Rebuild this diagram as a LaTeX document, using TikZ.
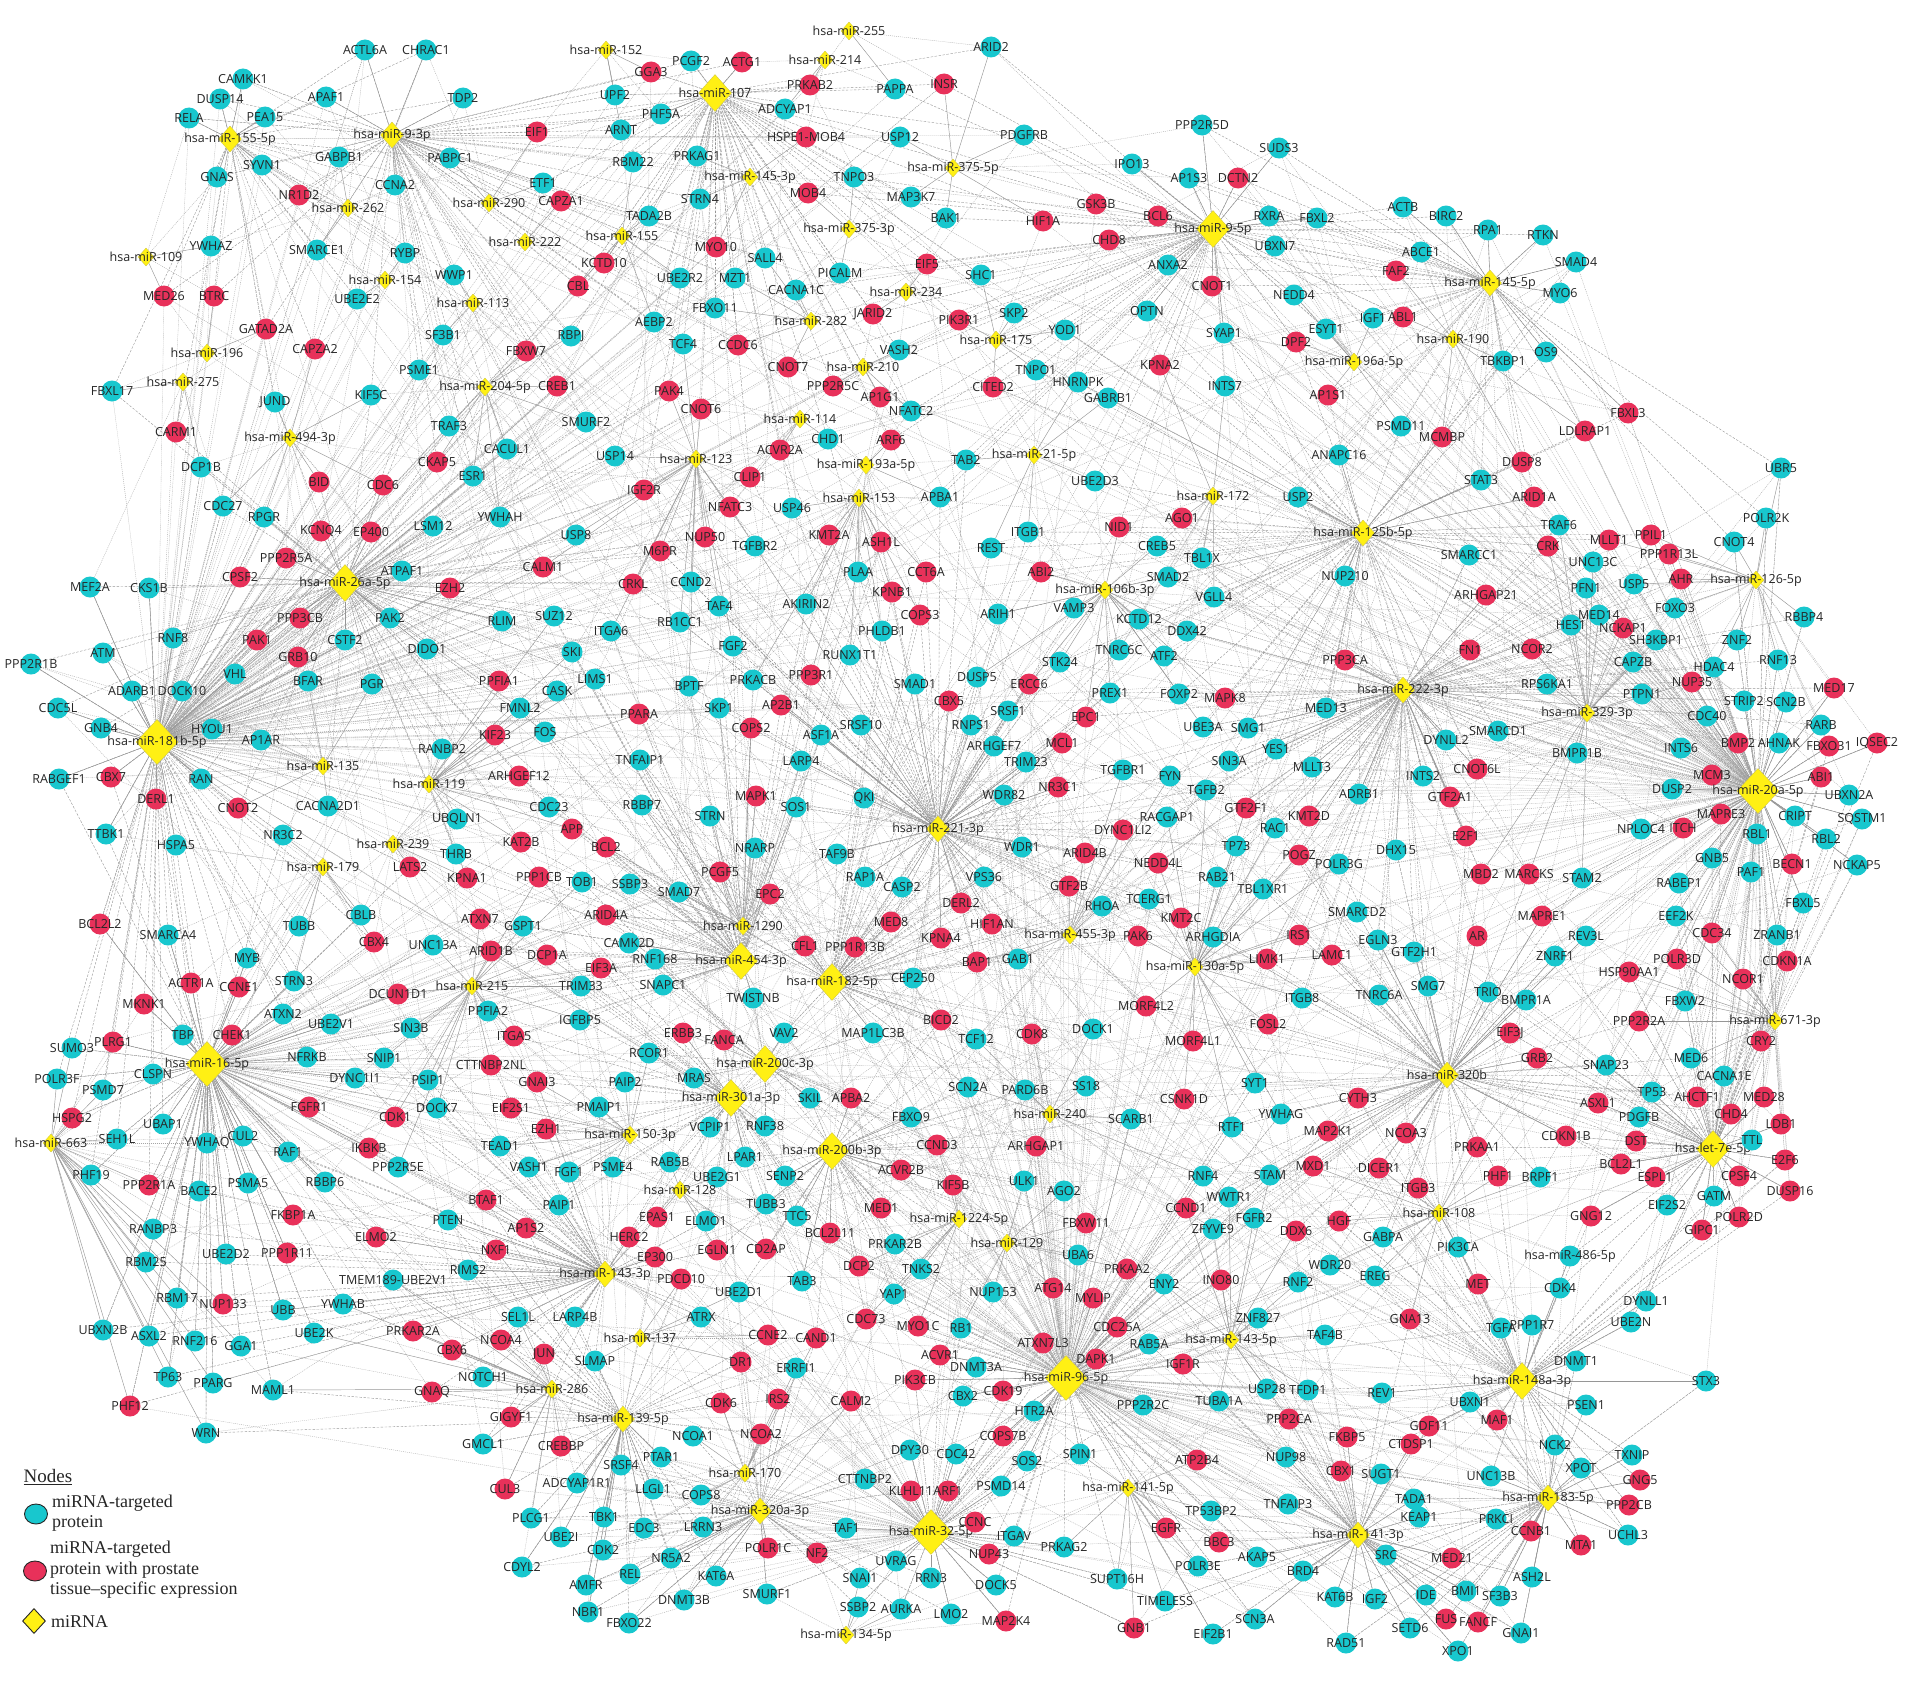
\documentclass[tikz,border=0pt]{standalone}
\usepackage{fontspec}
\setmainfont{Liberation Serif}
\newfontfamily\lblfam{Open Sans}
\usetikzlibrary{shapes.geometric}
\pgfdeclarelayer{bglayer}
\pgfdeclarelayer{edgelayer}
\pgfsetlayers{bglayer,edgelayer,main}
\definecolor{cyanc}{RGB}{24,199,206}
\definecolor{redc}{RGB}{232,49,90}
\definecolor{yelc}{RGB}{255,240,20}
\definecolor{yeld}{RGB}{205,195,60}
\definecolor{edgec}{RGB}{150,150,150}
\tikzset{
  cy/.style={circle, fill=cyanc, minimum size=21pt, inner sep=0pt},
  rd/.style={circle, fill=redc, minimum size=21pt, inner sep=0pt},
  mis/.style={diamond, fill=yelc, draw=yeld, line width=0.3pt, minimum width=16pt, minimum height=18pt, inner sep=0pt},
  mim/.style={mis, minimum width=23pt, minimum height=26pt},
  mib/.style={mis, minimum width=33pt, minimum height=37pt},
  mih/.style={mis, minimum width=42pt, minimum height=45pt},
  every label/.style={font=\lblfam\fontsize{12.5}{13}\selectfont, text=black!85, inner sep=0pt},
  e1/.style={draw=edgec, line width=0.45pt},
  e2/.style={draw=edgec, line width=0.4pt, dash pattern=on 2.5pt off 1.5pt},
  e3/.style={draw=edgec!85, line width=0.35pt, dash pattern=on 1pt off 1pt},
  legc/.style={ellipse, fill=cyanc, draw=black!85, line width=0.9pt, minimum width=23pt, minimum height=20pt, inner sep=0pt},
  legr/.style={ellipse, fill=redc, draw=black!85, line width=0.9pt, minimum width=23pt, minimum height=20pt, inner sep=0pt},
  legd/.style={diamond, fill=yelc, draw=black!85, line width=0.9pt, minimum width=23pt, minimum height=25pt, inner sep=0pt},
  legtxt/.style={anchor=west, align=left, inner sep=0pt, font=\fontsize{18}{20.5}\selectfont, text=black!85}
}
\gdef\protlist{}\gdef\mirlist{}\gdef\hublist{}\gdef\hugelist{}
\newcommand\mknode[1]{\node[#1,label={center:\lab}] (\lab) at (\fx,\fy) {};}
\newcommand\addlst[2]{\xdef#1{\unexpanded\expandafter{#1}\noexpand#2{\lab}{\fx}{\fy}}}
\newcommand\tile[3]{%
 \foreach \zx/\zy/\lab/\ty in {#3}{%
  \edef\fx{\the\numexpr #1+(\zx)/3\relax}%
  \edef\fy{\the\numexpr #2+(\zy)*35777/100000\relax}%
  \ifcase\ty\relax\or\mknode{cy}\or\mknode{rd}\or\mknode{mis}\or\mknode{mim}\or\mknode{mib}\or\mknode{mih}\fi
  \ifnum\ty<3\relax\addlst\protlist\pitem
  \else\addlst\mirlist\mitem
    \ifnum\ty>3\relax\addlst\hublist\mitem\fi
    \ifnum\ty>5\relax\addlst\hugelist\mitem\fi
  \fi}}
\newcount\dA \newcount\dB \newcount\dC \newcount\kidx \newcount\nh \newcount\pidx
\def\nearone#1#2#3{\dA=2147483647 \def\nA{}%
  \def\mitem##1##2##3{\dC=\numexpr(##2-#2)*(##2-#2)+(##3-#3)*(##3-#3)\relax
    \ifnum\dC<\dA \dA=\dC \def\nA{##1}\fi}#1}
\def\neartwo#1#2#3{\dA=2147483647 \dB=2147483647 \def\nA{}\def\nB{}%
  \def\mitem##1##2##3{\dC=\numexpr(##2-#2)*(##2-#2)+(##3-#3)*(##3-#3)\relax
    \ifnum\dC<\dA \dB=\dA \let\nB\nA \dA=\dC \def\nA{##1}\else
    \ifnum\dC<\dB \dB=\dC \def\nB{##1}\fi\fi}#1}
\def\pickhub{\dB=0 \def\nB{}\def\mitem##1##2##3{\ifnum\dB=\kidx \def\nB{##1}\fi\advance\dB by 1 }\hublist}
\def\pitem#1#2#3{%
  \neartwo\hublist{#2}{#3}%
  \draw[e2] (#1) -- (\nA);
  \draw[e2] (#1) -- (\nB);
  \nearone\hugelist{#2}{#3}%
  \draw[e3] (#1) -- (\nA);
  \neartwo\mirlist{#2}{#3}%
  \draw[e1] (#1) -- (\nA);
  \draw[e3] (#1) -- (\nB);
  \global\advance\pidx by 1
  \ifodd\pidx
    \global\advance\kidx by 7
    \ifnum\kidx<\nh\else\global\advance\kidx by -\nh\fi
    \pickhub
    \draw[e3] (#1) -- (\nB);
  \fi}
\begin{document}
\begin{tikzpicture}[x=1pt,y=-1pt]
\begin{pgfonlayer}{bglayer}
\fill[white] (0,0) rectangle (1910,1683);
\end{pgfonlayer}
\useasboundingbox (0,0) rectangle (1910,1683);
% ---------- tile 1
\tile{0}{0}{1095/140/ACTL6A/1,1278/140/CHRAC1/1,730/222/CAMKK1/1,660/278/DUSP14/1,978/272/APAF1/1,1390/275/TDP2/1,567/330/RELA/1,795/327/PEA15/1,690/388/hsa-miR-155-5p/4,1175/378/hsa-miR-9-3p/4,1018/440/GABPB1/1,1350/443/PABPC1/1,785/460/SYVN1/1,650/495/GNAS/1,1185/517/CCNA2/1,898/545/NR1D2/2,1045/580/hsa-miR-262/3,632/688/YWHAZ/1,950/698/SMARCE1/1,1215/707/RYBP/1,438/717/hsa-miR-109/3,1362/770/WWP1/1,1155/783/hsa-miR-154/3,492/826/MED26/2,643/826/BTRC/2,1070/835/UBE2E2/1,1420/848/hsa-miR-113/3,798/920/GATAD2A/2,1330/935/SF3B1/1,622/988/hsa-miR-196/3,945/976/CAPZA2/2,1257/1035/PSME1/1,335/1092/FBXL17/1,550/1068/hsa-miR-275/3,1113/1105/KIF5C/1,825/1125/JUND/1,1348/1190/TRAF3/1,528/1208/CARM1/2,870/1225/hsa-miR-494-3p/3,1310/1292/CKAP5/2,1420/1330/ESR1/1,603/1305/DCP1B/1,957/1347/BID/2,1148/1355/CDC6/2,668/1413/CDC27/1,793/1445/RPGR/1,962/1485/KCNQ4/2,1112/1487/EP400/2,1300/1470/LSM12/1}
% ---------- tile 2
\tile{478}{0}{1112/88/hsa-miR-255/3,385/140/hsa-miR-152/3,640/170/PCGF2/1,793/172/ACTG1/2,1040/167/hsa-miR-214/3,520/200/GGA3/2,410/265/UPF2/1,712/260/hsa-miR-107/5,997/238/PRKAB2/2,1250/248/PAPPA/1,1397/235/INSR/2,548/320/PHF5A/1,922/305/ADCYAP1/1,178/368/EIF1/2,430/362/ARNT/1,985/382/HSPE1-MOB4/2,1265/383/USP12/1,465/452/RBM22/1,658/435/PRKAG1/1,195/512/ETF1/1,815/495/hsa-miR-145-3p/3,1127/495/TNPO3/1,250/562/CAPZA1/2,32/568/hsa-miR-290/3,665/555/STRN4/1,990/540/MOB4/2,1300/550/MAP3K7/1,1405/610/BAK1/1,512/603/TADA2B/1,142/677/hsa-miR-222/3,432/660/hsa-miR-155/3,1113/640/hsa-miR-375-3p/3,715/690/MYO10/2,378/735/KCTD10/2,862/722/SALL4/1,1348/737/EIF5/2,1087/762/PICALM/1,300/800/CBL/2,605/778/UBE2R2/1,770/778/MZT1/1,955/810/CACNA1C/1,1285/815/hsa-miR-234/3,712/862/FBXO11/1,527/900/AEBP2/1,1000/898/hsa-miR-282/3,1185/878/JARID2/2,278/938/RBPJ/1,615/962/TCF4/1,780/965/CCDC6/2,1262/978/VASH2/1,143/980/FBXW7/2,930/1025/CNOT7/2,1155/1025/hsa-miR-210/3,20/1082/hsa-miR-204-5p/3,238/1080/CREB1/2,572/1093/PAK4/2,1065/1080/PPP2R5C/2,1205/1110/AP1G1/2,668/1143/CNOT6/2,325/1180/SMURF2/1,965/1172/hsa-miR-114/3,1300/1150/NFATC2/1,88/1255/CACUL1/1,412/1275/USP14/1,1050/1228/CHD1/1,1240/1230/ARF6/2,655/1282/hsa-miR-123/3,905/1258/ACVR2A/2,1165/1300/hsa-miR-193a-5p/3,815/1333/CLIP1/2,497/1370/IGF2R/2,755/1418/NFATC3/2,943/1420/USP46/1,1143/1392/hsa-miR-153/3,1385/1390/APBA1/1,65/1445/YWHAH/1,293/1495/USP8/1,680/1500/NUP50/2,1053/1495/KMT2A/2,1210/1515/ASH1L/2,830/1525/TGFBR2/1,545/1540/M6PR/2}
% ---------- tile 3
\tile{956}{0}{105/130/ARID2/1,205/378/PDGFRB/1,738/350/PPP2R5D/1,968/415/SUDS3/1,-10/470/hsa-miR-375-5p/3,528/458/IPO13/1,698/497/AP1S3/1,845/498/DCTN2/2,420/570/GSK3B/2,262/617/HIF1A/2,605/605/BCL6/2,770/640/hsa-miR-9-5p/5,938/605/RXRA/1,1083/610/FBXL2/1,1340/578/ACTB/1,460/672/CHD8/2,958/688/UBXN7/1,1395/705/ABCE1/1,635/740/ANXA2/1,75/768/SHC1/1,1320/757/FAF2/2,768/800/CNOT1/2,1015/825/NEDD4/1,10/895/PIK3R1/2,175/875/SKP2/1,573/868/OPTN/1,1252/890/IGF1/1,1342/885/ABL1/2,328/922/YOD1/1,803/932/SYAP1/1,1110/920/ESYT1/1,1020/955/DPF2/2,120/950/hsa-miR-175/3,1195/1012/hsa-miR-196a-5p/3,613/1020/KPNA2/2,240/1035/TNPO1/1,110/1082/CITED2/2,365/1068/HNRNPK/1,455/1112/GABRB1/1,808/1078/INTS7/1,1117/1105/AP1S1/2,1335/1190/PSMD11/1,235/1272/hsa-miR-21-5p/3,30/1285/TAB2/1,1148/1272/ANAPC16/1,418/1345/UBE2D3/1,772/1385/hsa-miR-172/3,1027/1390/USP2/1,678/1448/AGO1/2,490/1472/NID1/2,215/1488/ITGB1/1,1222/1490/hsa-miR-125b-5p/4,105/1532/REST/1,603/1527/CREB5/1,738/1560/TBL1X/1}
% ---------- tile 4
\tile{1434}{0}{35/605/BIRC2/1,162/643/RPA1/1,328/658/RTKN/1,425/733/SMAD4/1,168/790/hsa-miR-145-5p/4,378/820/MYO6/1,58/948/hsa-miR-190/3,207/1008/TBKBP1/1,335/983/OS9/1,582/1155/FBXL3/2,452/1205/LDLRAP1/2,25/1222/MCMBP/2,263/1292/DUSP8/2,1042/1307/UBR5/1,140/1343/STAT3/1,300/1390/ARID1A/2,995/1447/POLR2K/1,375/1468/TRAF6/1,525/1510/MLLT1/2,650/1495/PPIL1/2,705/1548/PPP1R13L/2,900/1515/CNOT4/1,342/1527/CRK/2,105/1552/SMARCC1/1,478/1570/UNC13C/1}
% ---------- tile 5
\tile{0}{561}{858/-8/PPP2R5A/2,270/72/MEF2A/1,448/75/CKS1B/1,720/45/CPSF2/2,1035/62/hsa-miR-26a-5p/5,1205/28/ATPAF1/1,1350/75/EZH2/2,900/160/PPP3CB/2,1170/160/PAK2/1,518/215/RNF8/1,772/222/PAK1/2,1035/222/CSTF2/1,1280/245/DIDO1/1,310/258/ATM/1,893/268/GRB10/2,92/288/PPP2R1B/1,705/315/VHL/1,925/335/BFAR/1,1117/345/PGR/1,397/362/ADARB1/1,545/362/DOCK10/1,173/410/CDC5L/1,302/467/GNB4/1,470/505/hsa-miR-181b-5p/6,635/470/HYOU1/1,783/500/AP1AR/1,1325/525/RANBP2/1,178/610/RABGEF1/1,333/605/CBX7/2,603/608/RAN/1,968/572/hsa-miR-135/3,1288/622/hsa-miR-119/3,468/665/DERL1/2,713/690/CNOT2/2,985/685/CACNA2D1/1,1370/720/UBQLN1/1,318/762/TTBK1/1,528/793/HSPA5/1,850/765/NR3C2/1,1178/790/hsa-miR-239/3,1368/820/THRB/1,970/855/hsa-miR-179/3,1230/855/LATS2/2,1400/885/KPNA1/2,1082/990/CBLB/1,897/1020/TUBB/1,300/1015/BCL2L2/2,505/1045/SMARCA4/1,1122/1065/CBX4/2,1298/1072/UNC13A/1,742/1110/MYB/1,573/1180/ACTR1A/2,718/1190/CCNE1/2,882/1175/STRN3/1,1195/1210/DCUN1D1/2,1415/1188/hsa-miR-215/3,433/1237/MKNK1/2,850/1265/ATXN2/1,993/1295/UBE2V1/1,1233/1305/SIN3B/1,550/1325/TBP/1,695/1325/CHEK1/2,215/1360/SUMO3/1,340/1345/PLRG1/2,922/1385/NFRKB/1,1153/1390/SNIP1/1,170/1447/POLR3F/1,458/1435/CLSPN/1,622/1405/hsa-miR-16-5p/6,1065/1445/DYNC1I1/1,1283/1452/PSIP1/1,310/1480/PSMD7/1,928/1525/FGFR1/2,1185/1555/CDK1/2,1310/1530/DOCK7/1,215/1557/HSPG2/2}
% ---------- tile 6
\tile{478}{561}{195/18/CALM1/2,1140/30/PLAA/1,1345/30/CCT6A/2,465/65/CRKL/2,638/58/CCND2/1,1243/88/KPNB1/2,723/125/TAF4/1,985/120/AKIRIN2/1,72/168/RLIM/1,228/155/SUZ12/1,607/170/RB1CC1/1,1325/152/COPS3/2,398/197/ITGA6/1,1213/197/PHLDB1/1,283/255/SKI/1,765/238/FGF2/1,1117/262/RUNX1T1/1,62/335/PPFIA1/2,352/330/LIMS1/1,238/362/CASK/1,633/350/BPTF/1,825/333/PRKACB/1,1000/318/PPP3R1/2,1310/345/SMAD1/1,1413/392/CBX5/2,125/410/FMNL2/1,723/410/SKP1/1,910/403/AP2B1/2,482/428/PPARA/2,50/487/KIF23/2,202/478/FOS/1,818/468/COPS2/2,1030/485/ASF1A/1,1150/457/SRSF10/1,487/555/TNFAIP1/1,968/558/LARP4/1,122/600/ARHGEF12/2,833/658/MAPK1/2,955/688/SOS1/1,1157/662/QKI/1,213/688/CDC23/1,493/683/RBBP7/1,697/712/STRN/1,1380/748/hsa-miR-221-3p/4,283/750/APP/2,130/785/KAT2B/2,385/798/BCL2/2,830/803/NRARP/1,1077/820/TAF9B/1,183/883/PPP1CB/2,313/897/TOB1/1,455/902/SSBP3/1,727/868/PCGF5/2,1160/882/RAP1A/1,1273/910/CASP2/1,602/925/SMAD7/1,875/932/EPC2/2,5/1000/ATXN7/2,135/1020/GSPT1/1,385/990/ARID4A/2,795/1020/hsa-miR-1290/3,1240/1010/MED8/2,40/1090/ARID1B/2,208/1100/DCP1A/2,453/1068/CAMK2D/1,980/1075/CFL1/2,1130/1078/PPP1R13B/2,1390/1055/KPNA4/2,532/1112/RNF168/1,790/1118/hsa-miR-454-3p/5,370/1138/EIF3A/2,1062/1178/hsa-miR-182-5p/5,1305/1165/CEP250/1,308/1188/TRIM33/1,555/1185/SNAPC1/1,825/1222/TWISTNB/1,30/1258/PPFIA2/1,305/1282/IGFBP5/1,1390/1283/BICD2/2,108/1328/ITGA5/2,615/1320/ERBB3/2,738/1340/FANCA/2,918/1318/VAV2/1,1185/1320/MAP1LC3B/1,513/1375/RCOR1/1,38/1408/CTTNBP2NL/2,862/1405/hsa-miR-200c-3p/5,178/1455/GNAI3/2,440/1455/PAIP2/1,648/1445/MRAS/1,760/1500/hsa-miR-301a-3p/5,995/1500/SKIL/1,1120/1500/APBA2/2,100/1530/EIF2S1/2,362/1525/PMAIP1/1,1300/1555/FBXO9/1}
% ---------- tile 7
\tile{956}{561}{255/30/ABI2/2,635/45/SMAD2/1,1168/43/NUP210/1,448/80/hsa-miR-106b-3p/3,775/100/VGLL4/1,125/148/ARIH1/1,353/132/VAMP3/1,548/163/KCTD12/1,693/195/DDX42/1,312/283/STK24/1,488/250/TNRC6C/1,623/265/ATF2/1,1168/277/PPP3CA/2,62/325/DUSP5/1,218/345/ERCC6/2,462/368/PREX1/1,670/372/FOXP2/1,808/382/MAPK8/2,1340/360/hsa-miR-222-3p/4,1110/412/MED13/1,155/420/SRSF1/1,390/435/EPC1/2,45/458/RNPS1/1,740/465/UBE3A/1,875/468/SMG1/1,115/518/ARHGEF7/1,318/510/MCL1/2,960/525/YES1/1,210/562/TRIM23/1,820/560/SIN3A/1,1068/575/MLLT3/1,1400/600/INTS2/1,500/585/TGFBR1/1,643/600/FYN/1,750/640/TGFB2/1,1208/652/ADRB1/1,145/655/WDR82/1,305/632/NR3C1/2,870/690/GTF2F1/2,1060/712/KMT2D/2,632/715/RACGAP1/1,958/747/RAC1/1,500/752/DYNC1LI2/2,197/800/WDR1/1,840/797/TP73/1,387/815/ARID4B/2,1028/822/POGZ/2,1320/808/DHX15/1,605/843/NEDD4L/2,1150/848/POLR3G/1,85/883/VPS36/1,783/882/RAB21/1,340/908/GTF2B/2,920/918/TBL1XR1/1,15/955/DERL2/2,438/965/RHOA/1,578/945/TCERG1/1,1203/982/SMARCD2/1,675/998/KMT2C/2,108/1015/HIF1AN/2,343/1045/hsa-miR-455-3p/3,545/1048/PAK6/2,770/1050/ARHGDIA/1,1030/1045/IRS1/2,1267/1058/EGLN3/1,1375/1093/GTF2H1/1,62/1122/BAP1/2,185/1112/GAB1/1,933/1112/LIMK1/2,1127/1102/LAMC1/2,718/1135/hsa-miR-130a-5p/3,1038/1222/ITGB8/1,1270/1212/TNRC6A/1,1415/1188/SMG7/1,570/1245/MORF4L2/2,935/1295/FOSL2/2,228/1323/CDK8/2,410/1308/DOCK1/1,710/1343/MORF4L1/2,60/1337/TCF12/1,36/1470/SCN2A/1,208/1478/PARD6B/1,390/1468/SS18/1,897/1458/SYT1/1,685/1505/CSNK1D/2,1207/1500/CYTH3/2,283/1545/hsa-miR-240/3,525/1560/SCARB1/1,975/1547/YWHAG/1}
% ---------- tile 8
\tile{1434}{561}{740/50/AHR/2,965/52/hsa-miR-126-5p/3,455/75/PFN1/1,600/65/USP5/1,155/95/ARHGAP21/2,722/132/FOXO3/1,1110/157/RBBP4/1,495/150/MED14/1,410/180/HES1/1,568/188/NCKAP1/2,665/220/SH3KBP1/1,910/222/ZNF2/1,108/248/FN1/2,295/245/NCOR2/2,1033/278/RNF13/1,597/283/CAPZB/1,840/295/HDAC4/1,775/338/NUP35/2,338/345/RPS6KA1/1,1200/355/MED17/2,625/372/PTPN1/1,930/390/STRIP2/1,1055/395/SCN2B/1,460/425/hsa-miR-329-3p/3,818/433/CDC40/1,1160/458/RARB/1,192/475/SMARCD1/1,35/500/DYNLL2/1,912/508/BMP2/2,1035/508/AHNAK/1,1185/518/FBXO31/2,1330/510/IQSEC2/2,740/522/INTS6/1,428/538/BMPR1B/1,130/582/CNOT6L/2,835/597/MCM3/2,1160/603/ABI1/2,973/643/hsa-miR-20a-5p/6,713/637/DUSP2/1,1245/653/UBXN2A/1,48/660/GTF2A1/2,862/708/MAPRE3/2,1082/712/CRIPT/1,1285/722/SQSTM1/1,620/750/NPLOC4/1,748/745/ITCH/2,970/762/RBL1/1,95/770/E2F1/2,1175/778/RBL2/1,835/830/GNB5/1,1073/848/BECN1/2,1268/850/NCKAP5/1,950/868/PAF1/1,140/876/MBD2/2,285/875/MARCKS/2,445/885/STAM2/1,735/900/RABEP1/1,1108/955/FBXL5/1,323/992/MAPRE1/2,727/993/EEF2K/1,130/1048/AR/2,455/1048/REV3L/1,835/1040/CDC34/2,1030/1045/ZRANB1/1,362/1105/ZNRF1/1,730/1112/POLR3D/2,1060/1118/CDKN1A/2,585/1150/HSP90AA1/2,928/1168/NCOR1/2,163/1205/TRIO/1,275/1228/BMPR1A/1,753/1230/FBXW2/1,1022/1285/hsa-miR-671-3p/3,615/1285/PPP2R2A/2,228/1318/EIF3J/2,980/1343/CRY2/2,310/1388/GRB2/2,772/1390/MED6/1,515/1408/SNAP23/1,40/1437/hsa-miR-320b/4,870/1440/CACNA1E/1,655/1485/TP53/1,790/1497/AHCTF1/2,493/1515/ASXL1/2,990/1497/MED28/2,890/1545/CHD4/2,615/1555/PDGFB/1}
% ---------- tile 9
\tile{0}{1122}{490/5/UBAP1/1,152/58/hsa-miR-663/3,350/48/SEH1L/1,620/60/YWHAQ/1,728/38/CUL2/1,865/85/RAF1/1,1108/72/IKBKB/2,1195/125/PPP2R5E/1,272/148/PHF19/1,447/175/PPP2R1A/2,598/192/BACE2/1,745/170/PSMA5/1,975/168/RBBP6/1,878/260/FKBP1A/2,1345/275/PTEN/1,460/298/RANBP3/1,1127/322/ELMO2/2,437/392/RBM25/1,677/368/UBE2D2/1,862/367/PPP1R11/2,1180/443/TMEM189-UBE2V1/1,1405/415/RIMS2/1,530/493/RBM17/1,668/508/NUP133/2,848/525/UBB/1,1030/508/YWHAB/1,310/580/UBXN2B/1,447/598/ASXL2/1,585/612/RNF216/1,722/627/GGA1/1,943/590/UBE2K/1,1240/583/PRKAR2A/2,1355/638/CBX6/2,505/713/TP63/1,640/730/PPARG/1,820/750/MAML1/1,1295/755/GNAQ/2,390/793/PHF12/2,617/868/WRN/1}
% ---------- tile 10
\tile{478}{1122}{205/20/EZH1/2,455/35/hsa-miR-150-3p/3,697/15/VCPIP1/1,862/12/RNF38/1,65/68/TEAD1/1,800/98/LPAR1/1,1062/82/hsa-miR-200b-3p/5,1378/65/CCND3/2,152/127/VASH1/1,272/140/FGF1/1,405/127/PSME4/1,577/112/RAB5B/1,718/155/UBE2G1/1,920/152/SENP2/1,1270/135/ACVR2B/2,1425/175/KIF5B/2,25/218/BTAF1/2,607/190/hsa-miR-128/3,242/232/PAIP1/1,865/228/TUBB3/1,958/262/TTC5/1,1210/240/MED1/2,145/295/AP1S2/2,538/265/EPAS1/2,685/278/ELMO1/1,1055/310/BCL2L11/2,55/358/NXF1/2,452/322/HERC2/2,530/378/EP300/2,718/358/EGLN1/2,865/355/CD2AP/2,1250/340/PRKAR2B/1,380/425/hsa-miR-143-3p/4,608/440/PDCD10/2,1142/402/DCP2/2,1330/412/TNKS2/1,972/445/TAB3/1,783/475/UBE2D1/1,1248/482/YAP1/1,120/545/SEL1L/1,290/545/LARP4B/1,668/545/ATRX/1,1165/550/CDC73/2,1320/570/MYO1C/2,68/610/NCOA4/2,485/603/hsa-miR-137/3,870/595/CCNE2/2,1013/605/CAND1/2,198/648/JUN/2,352/668/SLMAP/1,790/670/DR1/2,955/688/ERRFI1/1,1385/650/ACVR1/2,15/712/NOTCH1/1,222/745/hsa-miR-286/3,1310/720/PIK3CB/2,728/785/CDK6/2,900/775/IRS2/2,1120/780/CALM2/2,98/825/GIGYF1/2,435/830/hsa-miR-139-5p/4,15/900/GMCL1/1,645/878/NCOA1/1,848/872/NCOA2/2,248/905/CREBBP/2,1295/918/DPY30/1,548/935/PTAR1/1,430/958/SRSF4/1,800/980/hsa-miR-170/3,1162/998/CTTNBP2/1,80/1025/CUL3/2,298/1010/ADCYAP1R1/1,525/1025/LLGL1/1,1300/1030/KLHL11/2,1410/1030/ARF1/2,670/1042/COPS8/1,845/1088/hsa-miR-320a-3p/4,160/1108/PLCG1/1,378/1105/TBK1/1,497/1135/EDC3/1,675/1132/LRRN3/1,1105/1135/TAF1/1,1360/1145/hsa-miR-32-5p/6,248/1160/UBE2I/1,375/1195/CDK2/1,870/1190/POLR1C/2,1018/1205/NF2/2,578/1218/NR5A2/1,1253/1228/UVRAG/1,132/1245/CDYL2/1,455/1262/REL/1,713/1270/KAT6A/1,1145/1275/SNAI1/1,1360/1275/RRN3/1,325/1295/AMFR/1,868/1318/SMURF1/1,618/1335/DNMT3B/1,1140/1355/SSBP2/1,1268/1362/AURKA/1,1420/1375/LMO2/1,330/1370/NBR1/1,453/1400/FBXO22/1,1105/1433/hsa-miR-134-5p/3}
% ---------- tile 11
\tile{956}{1122}{828/15/RTF1/1,1115/25/MAP2K1/2,1350/32/NCOA3/2,240/68/ARHGAP1/2,205/165/ULK1/1,740/152/RNF4/1,943/148/STAM/1,1072/122/MXD1/2,1268/128/DICER1/2,323/193/AGO2/1,690/240/CCND1/2,818/210/WWTR1/1,1385/185/ITGB3/2,10/270/hsa-miR-1224-5p/3,390/283/FBXW11/2,893/268/FGFR2/1,772/298/ZFYVE9/1,1020/305/DDX6/2,1148/277/HGF/2,1280/322/GABPA/1,153/338/hsa-miR-129/3,365/372/UBA6/1,512/410/PRKAA2/2,795/442/INO80/2,625/453/ENY2/1,1123/400/WDR20/1,1025/447/RNF2/1,1258/430/EREG/1,110/475/NUP153/1,290/465/ATG14/2,410/492/MYLIP/2,1362/550/GNA13/2,905/548/ZNF827/1,483/572/CDC25A/2,15/575/RB1/1,1108/595/TAF4B/1,578/620/RAB5A/1,826/608/hsa-miR-143-5p/3,260/618/ATXN7L3/2,60/685/DNMT3A/1,420/662/DAPK1/2,680/677/IGF1R/2,330/715/hsa-miR-96-5p/6,932/745/USP28/1,1057/748/TFDP1/1,1278/758/REV1/1,20/765/CBX2/1,140/752/CDK19/2,560/792/PPP2R2C/1,790/780/TUBA1A/1,233/808/HTR2A/1,1000/830/PPP2CA/2,1420/850/GDF11/2,140/878/COPS7B/2,1172/880/FKBP5/2,1365/900/CTDSP1/2,0/928/CDC42/1,212/947/SOS2/1,372/928/SPIN1/1,722/945/ATP2B4/2,990/937/NUP98/1,1155/975/CBX1/2,1275/985/SUGT1/1,135/1018/PSMD14/1,517/1022/hsa-miR-141-5p/3,1375/1055/TADA1/1,995/1068/TNFAIP3/1,765/1088/TP53BP2/1,1390/1103/KEAP1/1,58/1117/CCNC/2,630/1135/EGFR/2,1205/1155/hsa-miR-141-3p/4,175/1158/ITGAV/1,790/1173/BBC3/2,325/1188/PRKAG2/1,100/1208/NUP43/2,903/1215/AKAP5/1,1290/1210/SRC/1,727/1240/POLR3E/1,1042/1255/BRD4/1,483/1278/SUPT16H/1,120/1293/DOCK5/1,1137/1328/KAT6B/1,1258/1332/IGF2/1,1410/1322/IDE/1,628/1340/TIMELESS/1,898/1388/SCN3A/1,150/1395/MAP2K4/2,535/1415/GNB1/2,770/1430/EIF2B1/1,1362/1415/SETD6/1,1170/1457/RAD51/1}
% ---------- tile 12
\tile{1434}{1122}{1040/5/LDB1/2,397/40/CDKN1B/2,605/52/DST/2,838/75/hsa-let-7e-5p/5,955/50/TTL/1,128/70/PRKAA1/2,560/118/BCL2L1/2,1053/107/E2F6/2,192/150/PHF1/2,318/155/BRPF1/1,662/155/ESPL1/2,915/150/CPSF4/2,1068/192/DUSP16/2,840/207/GATM/1,700/233/EIF2S2/1,15/255/hsa-miR-108/3,470/263/GNG12/2,915/265/POLR2D/2,803/302/GIPC1/2,72/350/PIK3CA/1,408/375/hsa-miR-486-5p/1,133/452/MET/2,377/463/CDK4/1,635/500/DYNLL1/1,590/558/UBE2N/1,200/575/TGFA/1,293/568/PPP1R7/1,425/668/DNMT1/1,265/725/hsa-miR-148a-3p/5,815/723/STX3/1,107/783/UBXN1/1,455/790/PSEN1/1,190/833/MAF1/2,363/903/NCK2/1,593/930/TXNIP/1,440/968/XPOT/1,617/1000/GNG5/2,172/990/UNC13B/1,342/1052/hsa-miR-183-5p/4,585/1070/PPP2CB/2,185/1110/PRKCI/1,290/1143/CCNB1/2,583/1153/UCHL3/1,440/1183/MTA1/2,55/1220/MED21/2,293/1273/ASH2L/1,95/1310/BMI1/1,198/1325/SF3B3/1,35/1388/FUS/2,133/1398/FANCF/2,262/1427/GNAI1/1,72/1478/XPO1/1}
% ---------- connectors
\dC=0 \def\mitem#1#2#3{\advance\dC by 1 }\hublist \nh=\dC
\global\kidx=0 \global\pidx=0
\begin{pgfonlayer}{edgelayer}
\protlist
\end{pgfonlayer}
% ---------- legend
\node[legtxt, anchor=center, font=\fontsize{19}{21}\selectfont] (legT) at (48,1477) {\underline{Nodes}};
\node[legc] (legA) at (36,1514) {};
\node[legtxt] (legAt) at (52,1513) {miRNA-targeted\\protein};
\node[legr] (legB) at (35,1571) {};
\node[legtxt] (legBt) at (50,1570) {miRNA-targeted\\protein with prostate\\tissue–specific expression};
\node[legd] (legD) at (34,1621) {};
\node[legtxt] (legDt) at (51,1622) {miRNA};
\end{tikzpicture}
\end{document}
